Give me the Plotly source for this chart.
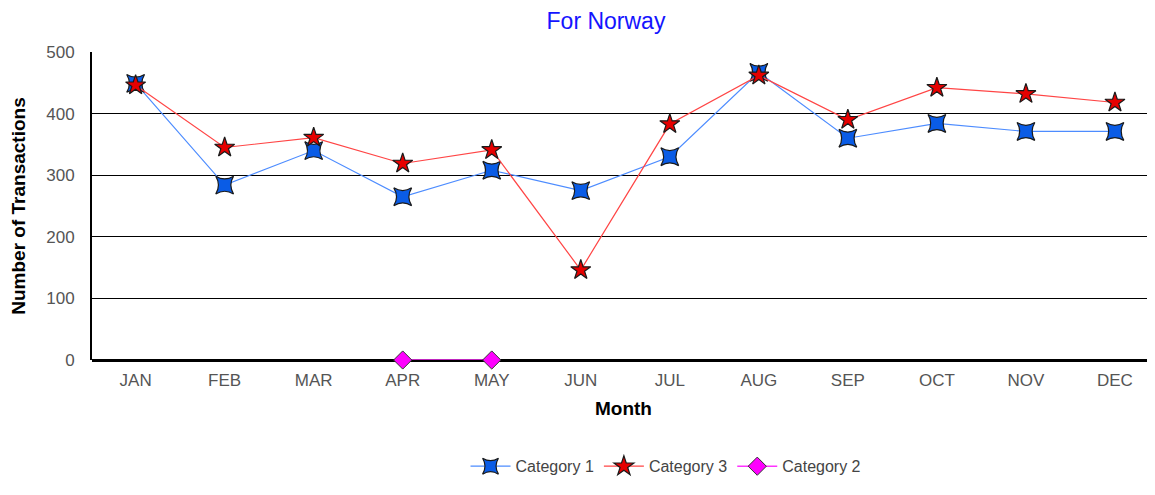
import plotly.graph_objects as go

months = ["JAN", "FEB", "MAR", "APR", "MAY", "JUN", "JUL", "AUG", "SEP", "OCT", "NOV", "DEC"]
cat1 = [449, 284, 340, 265, 308, 275, 330, 467, 360, 384, 371, 371]
cat3 = [446, 345, 361, 319, 341, 146, 383, 462, 390, 442, 432, 418]
cat2_months = ["APR", "MAY"]
cat2 = [0, 0]
y_ticks = [0, 100, 200, 300, 400, 500]

FONT = "Liberation Sans, Arial, sans-serif"
W, H = 1147, 487  # page body has an 8px margin

fig = go.Figure()
fig.add_trace(go.Scatter(
    x=months, y=cat1, name="Category 1", mode="lines+markers",
    line=dict(color="#4d8cff", width=1.2),
    marker=dict(symbol="star-diamond", angle=45, size=18, color="#0a5ce6",
                line=dict(color="#1a1a1a", width=1.2)),
))
fig.add_trace(go.Scatter(
    x=months, y=cat3, name="Category 3", mode="lines+markers",
    line=dict(color="#ff4545", width=1.2),
    marker=dict(symbol="star", size=15, color="#e60000",
                line=dict(color="#1a1a1a", width=1.2)),
))
fig.add_trace(go.Scatter(
    x=cat2_months, y=cat2, name="Category 2", mode="lines+markers",
    line=dict(color="#ff33ff", width=1.5),
    marker=dict(symbol="diamond", size=14, color="#ff00ff",
                line=dict(color="#333333", width=1)),
    cliponaxis=False,
))

fig.update_layout(
    width=W, height=H,
    paper_bgcolor="white", plot_bgcolor="white",
    margin=dict(l=84, r=0, t=44, b=135, autoexpand=False),
    font=dict(family=FONT, color="#555555", size=17),
    title=dict(text="For Norway", x=598 / W, xanchor="center", y=1 - 13 / H, yanchor="middle",
               font=dict(family=FONT, size=23, color="#1414ff")),
    showlegend=True,
    legend=dict(orientation="h", x=0.54, xanchor="center", y=-0.29, yanchor="top",
                font=dict(family=FONT, size=16, color="#444444"),
                itemwidth=40, tracegroupgap=0),
)
fig.update_xaxes(
    type="category", categoryorder="array", categoryarray=months,
    range=[-0.49, 11.45], automargin=False,
    showgrid=False, showline=False, zeroline=False,
    ticks="", ticklabelstandoff=8, tickfont=dict(family=FONT, size=17, color="#555555"),
    title=dict(text="Month", font=dict(family=FONT, size=19, color="#000000", weight="bold"), standoff=12),
)
fig.update_yaxes(
    range=[0, 500], tickvals=y_ticks, automargin=False,
    showgrid=True, gridcolor="#000000", gridwidth=1,
    showline=True, linecolor="#000000", linewidth=2,
    zeroline=True, zerolinecolor="#000000", zerolinewidth=2.5,
    ticks="", ticklabelstandoff=12,
    tickfont=dict(family=FONT, size=17, color="#555555"),
    title=dict(text="Number of Transactions", font=dict(family=FONT, size=19, color="#000000", weight="bold"), standoff=22),
)

fig.write_html("out.html")
